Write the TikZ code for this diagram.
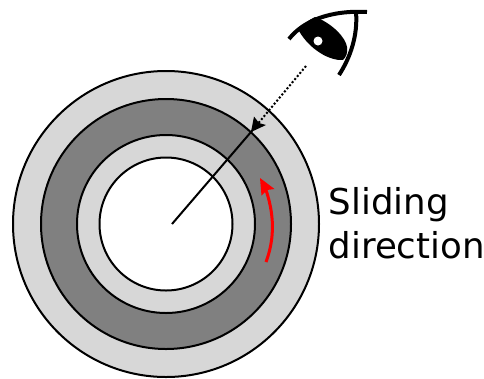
\documentclass[tikz,border=0pt]{standalone}
\usepackage{fontspec}
\setmainfont{DejaVu Sans}
\usetikzlibrary{arrows.meta}
\tikzset{
  ring/.style={draw=black,line width=2pt},
  lbl/.style={font=\fontsize{35.6}{44}\selectfont,align=left,inner sep=0pt,anchor=base west},
  lid/.style={line width=4pt,line cap=butt}
}
\begin{document}
\begin{tikzpicture}[x=1pt,y=-1pt]
\useasboundingbox (0,0) rectangle (484,378);
\coordinate (c) at (166,224);
\node[circle,ring,fill={rgb,255:red,215;green,215;blue,215},minimum size=306pt,inner sep=0pt] (r1) at (c) {};
\node[circle,ring,fill={rgb,255:red,128;green,128;blue,128},minimum size=250pt,inner sep=0pt] (r2) at (c) {};
\node[circle,ring,fill={rgb,255:red,215;green,215;blue,215},minimum size=178pt,inner sep=0pt] (r3) at (c) {};
\node[circle,ring,fill=white,minimum size=133pt,inner sep=0pt] (r4) at (c) {};
\coordinate (start) at (172,224);
\coordinate (tip) at (251,132);
\coordinate (eyeend) at (306,66);
\draw[line width=2pt] (start) -- (tip);
\draw[line width=2pt,dotted] (eyeend) -- (tip);
\fill (tip) -- (266,125) -- (259,123) -- (254,116.5) -- cycle;
\coordinate (rs) at (266,262);
\coordinate (re) at (266,190);
\draw[red,line width=3pt] (rs) .. controls (273,243) and (276,220) .. (re);
\fill[red] (260,178) -- (274.5,189) -- (267,190) -- (261.5,195.5) -- cycle;
% eye
\draw[lid] (289,39) .. controls (303,21) and (330,10) .. (367,12);
\draw[lid] (356,12) .. controls (358,36) and (350,58) .. (339,75);
\fill (299,31) .. controls (303,24) and (309,20) .. (315,17) .. controls (332,23) and (346,38) .. (347,47) .. controls (348,53) and (346,57) .. (343,60) .. controls (330,61) and (310,50) .. cycle;
\node[circle,fill=white,minimum size=9pt,inner sep=0pt] (pupil) at (318,41) {};
\node[lbl] (label) at (328.5,258) {Sliding\\direction};
\end{tikzpicture}
\end{document}
